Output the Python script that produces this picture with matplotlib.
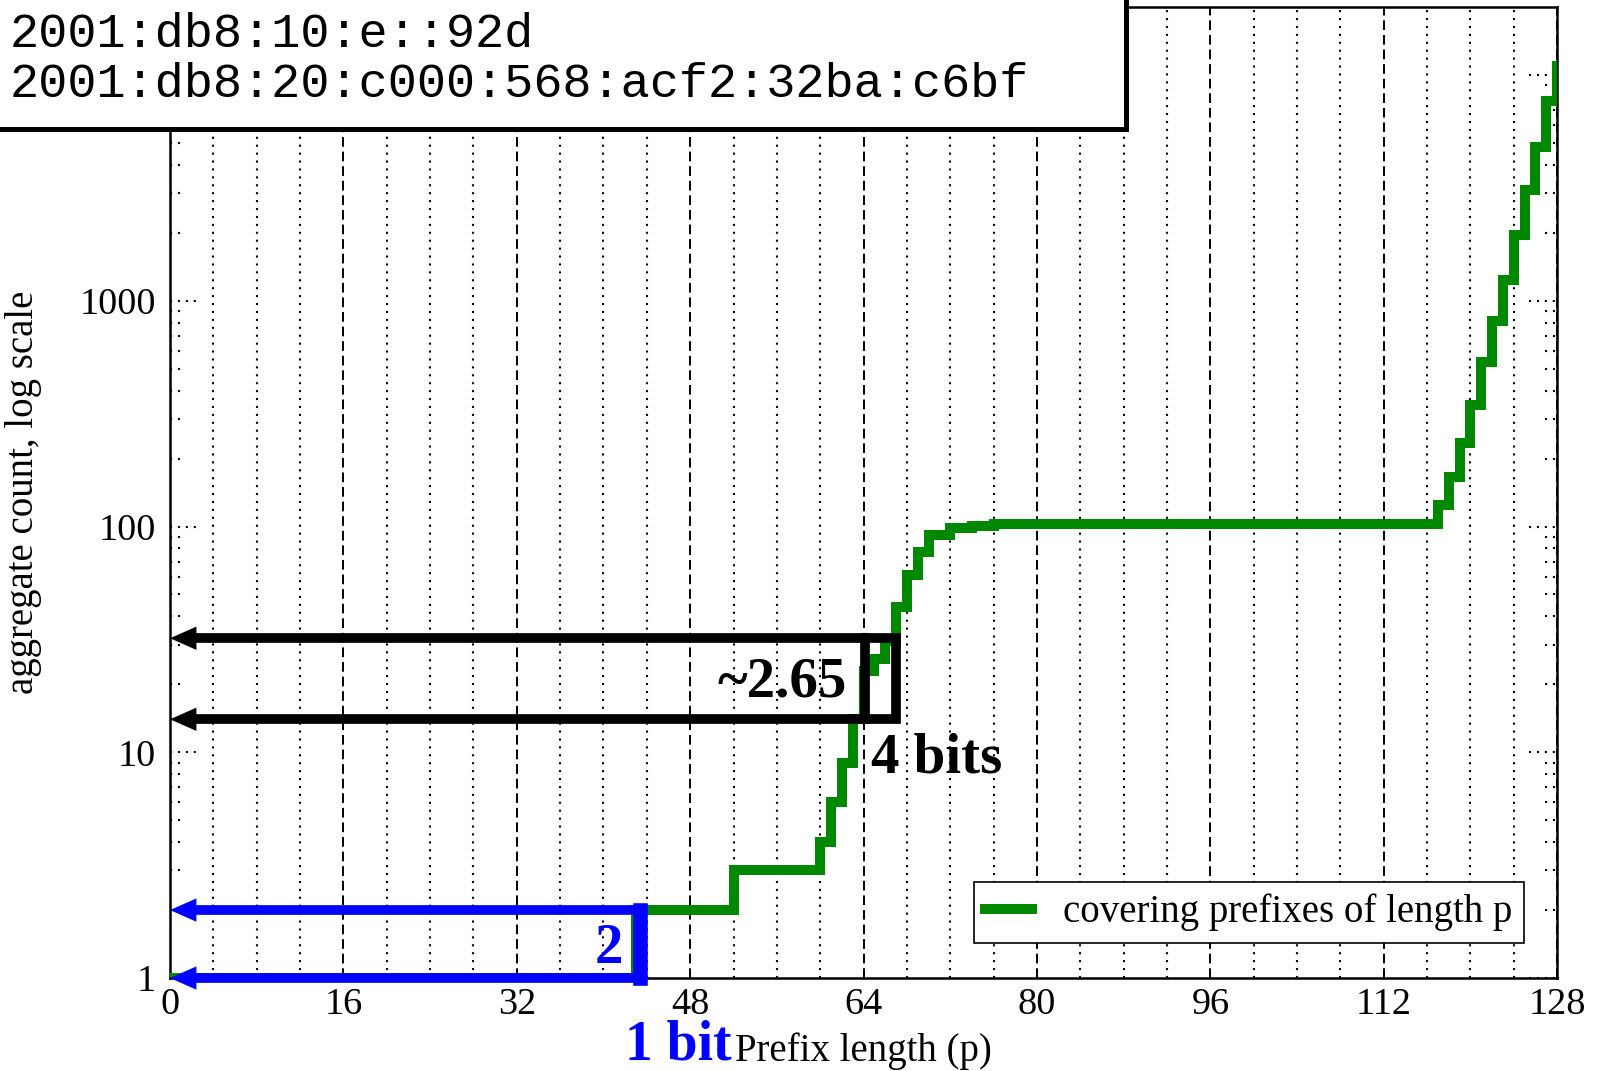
import matplotlib.pyplot as plt
from matplotlib.patches import Rectangle
from matplotlib.transforms import blended_transform_factory
from matplotlib.ticker import NullLocator

plt.rcParams['font.family'] = ['Liberation Serif', 'DejaVu Serif']

# covering prefix count: the count steps to step_counts[i] at bit step_bits[i]
step_bits = [0, 43, 52, 60, 61, 62, 63, 64, 65, 66, 67, 68, 69, 70, 72, 74, 76,
             117, 118, 119, 120, 121, 122, 123, 124, 125, 126, 127, 128]
step_counts = [1, 2, 3, 4, 6, 9, 14, 23, 26, 31, 44, 61, 77, 92, 99, 101, 103,
               125, 165, 234, 347, 534, 817, 1242, 1965, 3111, 4810, 7640, 11000]

x_ticks = [0, 16, 32, 48, 64, 80, 96, 112, 128]
y_ticks = [1, 10, 100, 1000]
y_decades = [1, 10, 100, 1000, 10000]

addresses = ["2001:db8:10:e::92d", "2001:db8:20:c000:568:acf2:32ba:c6bf"]

# brackets: counts read back to the y axis
blue_levels = [1, 2]
blue_edge = 43.4
black_levels = [14, 32]
black_edges = [64.1, 67]

fig = plt.figure(figsize=(15.98, 10.71), dpi=100)
ax = fig.add_axes([0.1064, 0.0868, 0.8680, 0.9066])

ax.step(step_bits, step_counts, where='post', color='#008800', lw=7.2,
        solid_joinstyle='miter', zorder=3, label='covering prefixes of length p')

ax.set_xlim(0, 128)
ax.set_yscale('log')
ax.set_ylim(1, 20000)

# grid: dashed every 16 bits, dotted every 4
ax.set_xticks(x_ticks)
ax.set_xticks(range(0, 129, 4), minor=True)
ax.grid(which='major', axis='x', ls=(0, (5, 2.5)), lw=1.4, color='k')
ax.grid(which='minor', axis='x', ls=(0, (1, 2.8)), lw=1.5, color='k')
ax.set_yticks(y_ticks)
ax.set_yticklabels([str(v) for v in y_ticks])
ax.yaxis.set_minor_locator(NullLocator())
ax.tick_params(which='both', length=0, labelsize=27.5)
ax.tick_params(axis='x', pad=7)
ax.tick_params(axis='y', pad=10)
for sp in ax.spines.values():
    sp.set_linewidth(1.8)

# dotted y tick marks on both edges
trans = blended_transform_factory(ax.transAxes, ax.transData)
for decade in y_decades:
    for m in range(1, 10):
        v = m * decade
        if v > 20000:
            break
        tl = 0.02 if m == 1 else 0.009
        ax.plot([0, tl], [v, v], transform=trans, ls=(0, (1, 2.8)), lw=1.5, color='k')
        ax.plot([1 - tl, 1], [v, v], transform=trans, ls=(0, (1, 2.8)), lw=1.5, color='k')

ax.set_xlabel('Prefix length (p)', fontsize=28)
ax.xaxis.set_label_coords(0.5, -0.056)
ax.set_ylabel('aggregate count, log scale', fontsize=28)
ax.yaxis.set_label_coords(-0.092, 0.5)

# black bracket (~2.65 over 4 bits)
lo, hi = black_levels
ax.plot([1.2, black_edges[1], black_edges[1], 1.2], [hi, hi, lo, lo], color='k', lw=7,
        solid_joinstyle='miter', solid_capstyle='butt', zorder=4)
ax.plot([black_edges[0], black_edges[0]], [lo, hi], color='k', lw=7,
        solid_capstyle='projecting', zorder=4)
for lv in black_levels:
    ax.annotate('', xy=(0, lv), xytext=(2.5, lv),
                arrowprops=dict(arrowstyle='-|>,head_length=0.95,head_width=0.42',
                                color='k', lw=0, shrinkA=0, shrinkB=0, mutation_scale=20),
                zorder=5)

# blue bracket (2 over 1 bit)
lo, hi = blue_levels
for lv in blue_levels:
    ax.plot([1.2, blue_edge], [lv, lv], color='blue', lw=7, solid_capstyle='butt',
            zorder=4, clip_on=False)
    ax.annotate('', xy=(0, lv), xytext=(2.5, lv),
                arrowprops=dict(arrowstyle='-|>,head_length=0.95,head_width=0.42',
                                color='blue', lw=0, shrinkA=0, shrinkB=0, mutation_scale=20),
                zorder=5, annotation_clip=False)
ax.plot([blue_edge, blue_edge], [lo, hi], color='blue', lw=10.5,
        solid_capstyle='projecting', zorder=4, clip_on=False)

ax.text(62.45, 17.6, '~2.65', ha='right', va='baseline', fontsize=41, fontweight='bold')
ax.text(64.7, 8.11, '4 bits', ha='left', va='baseline', fontsize=41, fontweight='bold')
ax.text(41.8, 1.166, '2', ha='right', va='baseline', fontsize=41, fontweight='bold',
        color='blue')
ax.text(0.405, -0.0835, '1 bit', transform=ax.transAxes, ha='right', va='baseline',
        fontsize=40, fontweight='bold', color='blue')

leg = ax.legend(loc='lower right', bbox_to_anchor=(0.9762, 0.036), fontsize=28,
                fancybox=False, edgecolor='k', framealpha=1, handlelength=1.2,
                handletextpad=0.8, borderpad=0.3, borderaxespad=0)
leg.get_frame().set_linewidth(1.2)

# address box in the top-left corner
box = Rectangle((-0.01, 1 - 129 / 1071), 1126 / 1598 + 0.01, 0.2,
                transform=fig.transFigure, fc='white', ec='k', lw=3.6, zorder=10)
fig.add_artist(box)
for addr, base in zip(addresses, [47, 97]):
    fig.text(10 / 1598, 1 - base / 1071, addr, family='Liberation Mono', fontsize=35,
             va='baseline', zorder=11)

fig.savefig('out.png', dpi=100)
